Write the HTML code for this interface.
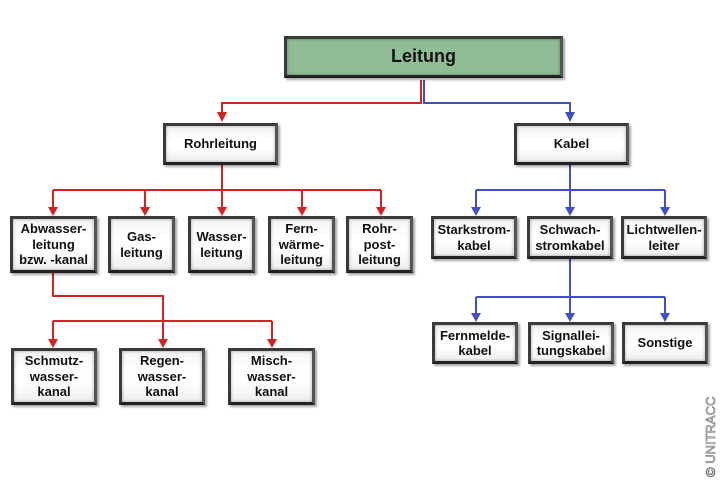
<!DOCTYPE html>
<html><head><meta charset="utf-8"><style>
body{margin:0;width:720px;height:480px;background:#fff;position:relative;overflow:hidden;font-family:"Liberation Sans",Arial,sans-serif}
.b{position:absolute;box-sizing:border-box;border:3px solid #3a3a3a;border-right-color:#555;border-bottom-color:#222;background:linear-gradient(#f4f4f4,#fff 40%,#fff 60%,#eee);box-shadow:2px 2px 2px rgba(0,0,0,.35),inset 0 0 3px rgba(0,0,0,.35);display:flex;align-items:center;justify-content:center;text-align:center;font-weight:bold;font-size:13px;line-height:15.5px;color:#111}
svg{position:absolute;left:0;top:0}
</style></head><body>
<svg width="720" height="480">
<g stroke="#d02424" stroke-width="2" fill="none">
<path d="M421,80 V103 H222 V120"/>
<path d="M222,164 V214"/>
<path d="M53,190 H381"/>
<path d="M53,190 V214 M145,190 V214 M302,190 V214 M381,190 V214"/>
<path d="M53,273 V296 H163 V346"/>
<path d="M53,321 H272 M53,321 V346 M272,321 V346"/>
</g>
<g fill="#d02424">
<path d="M217,112 L227,112 L222,122 Z"/>
<path d="M48,207 L58,207 L53,216 Z"/><path d="M140,207 L150,207 L145,216 Z"/><path d="M217,207 L227,207 L222,216 Z"/><path d="M297,207 L307,207 L302,216 Z"/><path d="M376,207 L386,207 L381,216 Z"/>
<path d="M48,339 L58,339 L53,348 Z"/><path d="M158,339 L168,339 L163,348 Z"/><path d="M267,339 L277,339 L272,348 Z"/>
</g>
<g stroke="#4050c0" stroke-width="2" fill="none">
<path d="M424,80 V103 H570 V120"/>
<path d="M570,164 V214"/>
<path d="M476,190 H665 M476,190 V214 M665,190 V214"/>
<path d="M570,258 V320"/>
<path d="M476,297 H665 M476,297 V320 M665,297 V320"/>
</g>
<g fill="#4050c0">
<path d="M565,112 L575,112 L570,122 Z"/>
<path d="M471,207 L481,207 L476,216 Z"/><path d="M565,207 L575,207 L570,216 Z"/><path d="M660,207 L670,207 L665,216 Z"/>
<path d="M471,313 L481,313 L476,322 Z"/><path d="M565,313 L575,313 L570,322 Z"/><path d="M660,313 L670,313 L665,322 Z"/>
</g>
<text transform="translate(715,477) rotate(-90)" font-family="Liberation Sans,sans-serif" font-size="13" fill="#fff" stroke="#777" stroke-width="0.7">© UNITRACC</text>
</svg>
<div class="b" style="left:284px;top:36px;width:279px;height:42px;background:#8fbd96;font-size:18px">Leitung</div>
<div class="b" style="left:163px;top:123px;width:115px;height:42px">Rohrleitung</div>
<div class="b" style="left:514px;top:123px;width:115px;height:42px">Kabel</div>
<div class="b" style="left:10px;top:216px;width:87px;height:57px">Abwasser-<br>leitung<br>bzw. -kanal</div>
<div class="b" style="left:108px;top:216px;width:67px;height:57px">Gas-<br>leitung</div>
<div class="b" style="left:188px;top:216px;width:67px;height:57px">Wasser-<br>leitung</div>
<div class="b" style="left:268px;top:216px;width:67px;height:57px">Fern-<br>wärme-<br>leitung</div>
<div class="b" style="left:346px;top:216px;width:67px;height:57px">Rohr-<br>post-<br>leitung</div>
<div class="b" style="left:11px;top:348px;width:86px;height:57px">Schmutz-<br>wasser-<br>kanal</div>
<div class="b" style="left:119px;top:348px;width:86px;height:57px">Regen-<br>wasser-<br>kanal</div>
<div class="b" style="left:228px;top:348px;width:87px;height:57px">Misch-<br>wasser-<br>kanal</div>
<div class="b" style="left:431px;top:216px;width:86px;height:43px">Starkstrom-<br>kabel</div>
<div class="b" style="left:527px;top:216px;width:86px;height:43px">Schwach-<br>stromkabel</div>
<div class="b" style="left:621px;top:216px;width:86px;height:43px">Lichtwellen-<br>leiter</div>
<div class="b" style="left:432px;top:322px;width:86px;height:42px">Fernmelde-<br>kabel</div>
<div class="b" style="left:528px;top:322px;width:86px;height:42px">Signallei-<br>tungskabel</div>
<div class="b" style="left:622px;top:322px;width:86px;height:42px">Sonstige</div>
</body></html>
